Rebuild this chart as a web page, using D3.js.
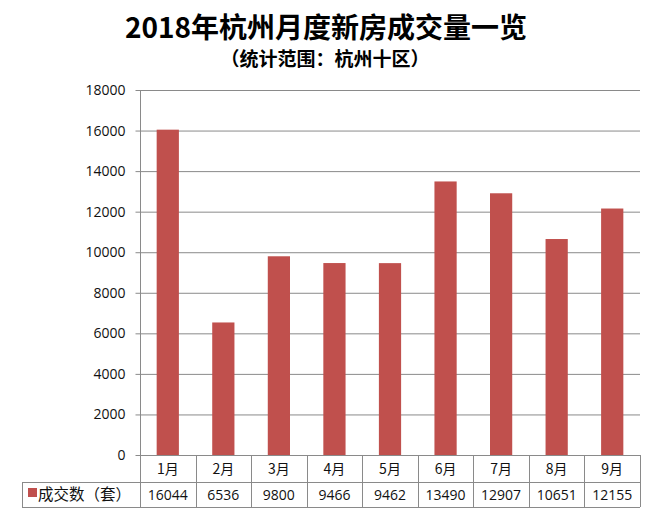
<!DOCTYPE html>
<html><head><meta charset="utf-8">
<script src="https://cdn.jsdelivr.net/npm/d3@7"></script>
<style>
body{margin:0;background:#fff;}
text{font-family:"Open Sans","Noto Sans CJK SC",sans-serif;}
</style></head>
<body><svg id="c" width="657" height="514"></svg>
<script>
const months = ["1月","2月","3月","4月","5月","6月","7月","8月","9月"];
const values = [16044,6536,9800,9466,9462,13490,12907,10651,12155];
const yTicks = [0,2000,4000,6000,8000,10000,12000,14000,16000,18000];
const seriesName = "成交数（套）";
const titleText = "2018年杭州月度新房成交量一览";
const subtitleText = "（统计范围：杭州十区）";

const svg = d3.select("#c");
const L=140, R=640, T=90, B=455;
const x = d3.scaleBand().domain(months).range([L,R]).paddingInner(0.6).paddingOuter(0.3);
const xb = d3.scaleBand().domain(months).range([L,R]);
const y = d3.scaleLinear().domain([0,18000]).range([B,T]);
const grid="#8a8a8a", red="#C0504D";
const cjk = '"Noto Sans CJK SC",sans-serif';

svg.append("text").attr("x",326).attr("y",38).attr("text-anchor","middle")
  .attr("font-size",28).attr("font-weight","bold").style("font-family",cjk).attr("fill","#000").text(titleText);
svg.append("text").attr("x",325).attr("y",66).attr("text-anchor","middle")
  .attr("font-size",19).attr("font-weight","bold").style("font-family",cjk).attr("fill","#000").text(subtitleText);

// gridlines
svg.append("g").selectAll("line").data(yTicks.filter(d=>d>0)).join("line")
  .attr("x1",L).attr("x2",R).attr("y1",d=>y(d)+0.5).attr("y2",d=>y(d)+0.5)
  .attr("stroke",grid).attr("stroke-width",1);

// y axis
const ya = svg.append("g").attr("transform",`translate(${L+0.5},0)`)
  .call(d3.axisLeft(y).tickValues(yTicks).tickSize(5).tickPadding(10).tickFormat(d3.format("d")));
ya.select(".domain").attr("stroke",grid).attr("d",`M0,${T}V${B}`);
ya.selectAll(".tick line").attr("stroke",grid);
ya.selectAll(".tick text").attr("font-size",14).attr("fill","#111").style("font-family",'"Open Sans",sans-serif');

// bars
svg.append("g").selectAll("rect").data(values).join("rect")
  .attr("x",(d,i)=>x(months[i])).attr("width",x.bandwidth())
  .attr("y",d=>y(d)).attr("height",d=>B-y(d)).attr("fill",red);

// table
const rowA=B, rowB=482, rowC=507, tabL=22;
const tg = svg.append("g").attr("stroke",grid).attr("stroke-width",1).attr("fill","none");
tg.append("line").attr("x1",L).attr("x2",R).attr("y1",B+0.5).attr("y2",B+0.5);
tg.append("line").attr("x1",tabL).attr("x2",R).attr("y1",rowB+0.5).attr("y2",rowB+0.5);
tg.append("line").attr("x1",tabL).attr("x2",R).attr("y1",rowC+0.5).attr("y2",rowC+0.5);
tg.append("line").attr("x1",tabL+0.5).attr("x2",tabL+0.5).attr("y1",rowB).attr("y2",rowC);
const bounds = months.map(m=>xb(m)).concat([R]);
tg.selectAll("line.v").data(bounds).join("line").attr("class","v")
  .attr("x1",d=>Math.round(d)+0.5).attr("x2",d=>Math.round(d)+0.5).attr("y1",B).attr("y2",rowC);

svg.append("g").selectAll("text").data(months).join("text")
  .attr("x",d=>xb(d)+xb.bandwidth()/2).attr("y",474).attr("text-anchor","middle")
  .attr("font-size",14).attr("fill","#111").style("font-family",cjk).text(d=>d);
svg.append("g").selectAll("text").data(values).join("text")
  .attr("x",(d,i)=>xb(months[i])+xb.bandwidth()/2).attr("y",500).attr("text-anchor","middle")
  .attr("font-size",14).attr("fill","#111").style("font-family",'"Open Sans",sans-serif').text(d=>d);

svg.append("rect").attr("x",28).attr("y",488).attr("width",9).attr("height",9).attr("fill",red);
svg.append("text").attr("x",38).attr("y",500).attr("font-size",15.5).attr("fill","#111")
  .style("font-family",cjk).text(seriesName);
</script></body></html>
